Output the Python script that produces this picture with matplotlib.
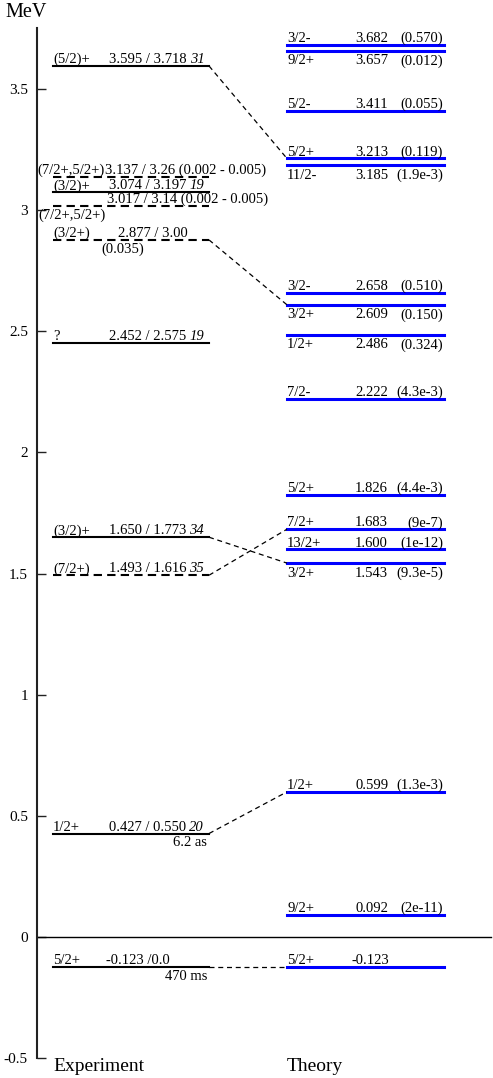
import matplotlib
matplotlib.use("Agg")
import matplotlib.pyplot as plt

plt.rcParams['font.family'] = ['Liberation Serif', 'DejaVu Serif']

# ---------------- data ----------------
exp_E = [3.595, 3.137, 3.074, 3.017, 2.877, 2.452, 1.650, 1.493, 0.427, -0.123]
exp_spin = ['(5/2)+', '(7/2+,5/2+)', '(3/2)+', '', '(3/2+)', '?', '(3/2)+', '(7/2+)', '1/2+', '5/2+']
exp_text = ['3.595 / 3.718', '3.137 / 3.26 (0.002 - 0.005)', '3.074 / 3.197',
            '3.017 / 3.14 (0.002 - 0.005)', '2.877 / 3.00', '2.452 / 2.575',
            '1.650 / 1.773', '1.493 / 1.616', '0.427 / 0.550', '-0.123 /0.0']
exp_ref = ['31', '', '19', '', '', '19', '34', '35', '20', '']
exp_tentative = [False, True, False, True, True, False, False, True, False, False]
exp_note = ['', '', '', '(7/2+,5/2+)', '(0.035)', '', '', '', '6.2 as', '470 ms']

th_E = [3.682, 3.657, 3.411, 3.213, 3.185, 2.658, 2.609, 2.486, 2.222,
        1.826, 1.683, 1.600, 1.543, 0.599, 0.092, -0.123]
th_spin = ['3/2-', '9/2+', '5/2-', '5/2+', '11/2-', '3/2-', '3/2+', '1/2+', '7/2-',
           '5/2+', '7/2+', '13/2+', '3/2+', '1/2+', '9/2+', '5/2+']
th_width = ['(0.570)', '(0.012)', '(0.055)', '(0.119)', '(1.9e-3)', '(0.510)', '(0.150)',
            '(0.324)', '(4.3e-3)', '(4.4e-3)', '(9e-7)', '(1e-12)', '(9.3e-5)',
            '(1.3e-3)', '(2e-11)', '']

links = [(0, 3), (4, 6), (6, 12), (7, 10), (8, 13), (9, 15)]

yticks = [-0.5, 0, 0.5, 1, 1.5, 2, 2.5, 3, 3.5]
ytick_labels = ['-0.5', '0', '0.5', '1', '1.5', '2', '2.5', '3', '3.5']

# ---------------- layout ----------------
W, H = 493, 1078
scale = 242.3          # px per MeV
y0px = 141             # px from bottom for E = 0
ylo = -y0px / scale
yhi = (H - y0px) / scale

th_label_below = [False, True, False, False, True, False, True, True, False,
                  False, False, False, True, False, False, False]
spin_x = {1: 37}
text_x = {1: 105, 3: 107, 4: 118, 9: 106}
FS = 10.5

fig = plt.figure(figsize=(W / 100, H / 100), dpi=100)
ax = fig.add_axes([0, 0, 1, 1])
ax.set_xlim(0, W)
ax.set_ylim(ylo, yhi)

for s in ['top', 'right', 'bottom']:
    ax.spines[s].set_visible(False)
ax.spines['left'].set_position(('data', 37))
ax.spines['left'].set_bounds(-0.5, 3.75)
ax.spines['left'].set_linewidth(1.5)
ax.spines['left'].set_color('#222222')
ax.set_xticks([])
ax.set_yticks(yticks)
ax.set_yticklabels(ytick_labels)
ax.tick_params(axis='y', direction='in', length=6.5, width=1.0, color='#222222',
               pad=6.5, labelsize=11)

ax.plot([37, 491], [0, 0], color='black', lw=1.0)

ax.text(5, yhi - 13 / scale, 'MeV', fontsize=14.5, va='center', ha='left')
ax.text(53, -0.5, 'Experiment', fontsize=14, va='top', ha='left')
ax.text(287, -0.5, 'Theory', fontsize=14, va='top', ha='left')

renderer = fig.canvas.get_renderer()

# experiment levels
xl0, xl1 = 53, 209
for i, E in enumerate(exp_E):
    if exp_tentative[i]:
        ax.plot([xl0, xl1], [E, E], color='black', lw=1.5, dashes=[4, 2.5])
    else:
        ax.plot([xl0, xl1], [E, E], color='black', lw=1.5)
    if exp_spin[i]:
        ax.annotate(exp_spin[i], (spin_x.get(i, 53), E), xytext=(0, 2), textcoords='offset points',
                    fontsize=FS, ha='left', va='baseline')
    t = ax.annotate(exp_text[i], (text_x.get(i, 109), E), xytext=(0, 2), textcoords='offset points',
                    fontsize=FS, ha='left', va='baseline')
    if exp_ref[i]:
        bb = t.get_window_extent(renderer)
        ax.annotate(exp_ref[i], (0, E), xycoords=('figure pixels', 'data'),
                    xytext=(bb.x1 + 3, 2 * 100 / 72), textcoords=('figure pixels', 'offset pixels'),
                    fontsize=FS, ha='left', va='baseline', style='italic')
    note = exp_note[i]
    if note:
        if i == 3:
            ax.annotate(note, (38, E), xytext=(0, -2), textcoords='offset points',
                        fontsize=FS, ha='left', va='top')
        elif i == 4:
            ax.annotate(note, (123, E), xytext=(0, -2), textcoords='offset points',
                        fontsize=FS, ha='center', va='top')
        else:
            ax.annotate(note, (207, E), xytext=(0, -2), textcoords='offset points',
                        fontsize=FS, ha='right', va='top')

# theory levels
xr0, xr1 = 287, 444
for i, E in enumerate(th_E):
    ax.plot([xr0, xr1], [E, E], color='#0000ff', lw=2.2)
    if th_label_below[i]:
        off, va = -2.5, 'top'
    else:
        off, va = 2, 'baseline'
    ax.annotate(th_spin[i], (287, E), xytext=(0, off), textcoords='offset points',
                fontsize=FS, ha='left', va=va)
    ax.annotate(f'{E:.3f}', (352 if E < 0 else 355, E), xytext=(0, off), textcoords='offset points',
                fontsize=FS, ha='left', va=va)
    if th_width[i]:
        ax.annotate(th_width[i], (443, E), xytext=(0, off), textcoords='offset points',
                    fontsize=FS, ha='right', va=va)

# connections
for a, b in links:
    ax.plot([xl1, xr0], [exp_E[a], th_E[b]], color='black', lw=0.9, dashes=[4, 3])

fig.savefig('out.png', dpi=100)
